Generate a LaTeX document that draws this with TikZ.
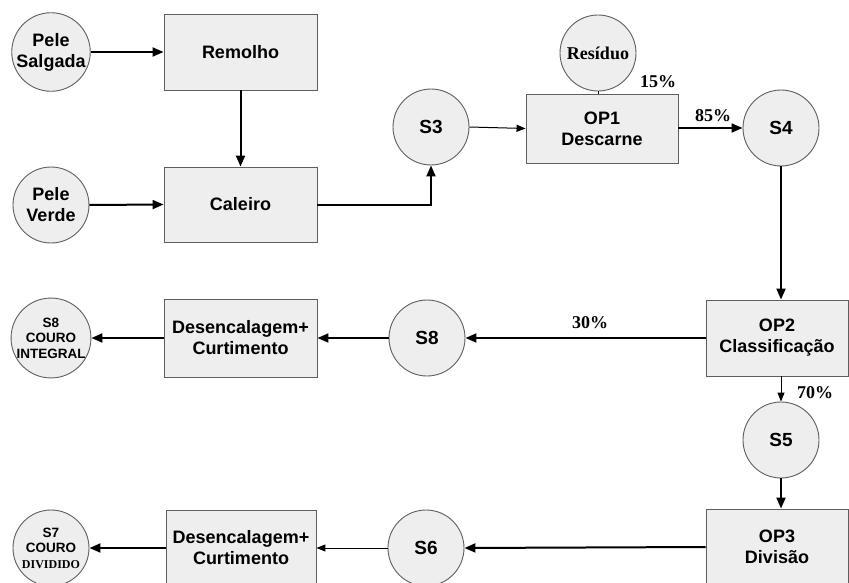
\documentclass[tikz,border=0pt]{standalone}
\usepackage{fontspec}
\setmainfont{Liberation Serif}
\setsansfont{Liberation Sans}
\usetikzlibrary{arrows.meta}
\definecolor{boxfill}{HTML}{EEEEEE}
\definecolor{edge}{HTML}{5E5E5E}
\tikzset{
  proc/.style={draw=edge, line width=0.9pt, fill=boxfill, rectangle, inner sep=0pt,
    align=center, font=\sffamily\bfseries\fontsize{18}{21}\selectfont},
  stream/.style={draw=edge, line width=0.9pt, fill=boxfill, circle, inner sep=0pt,
    minimum size=76pt, align=center, font=\sffamily\bfseries\fontsize{18}{21}\selectfont},
  sid/.style={font=\sffamily\bfseries\fontsize{19}{22}\selectfont},
  smalltxt/.style={font=\sffamily\bfseries\fontsize{13.5}{15.5}\selectfont},
  thick flow/.style={line width=2pt, -{Triangle[length=11pt,width=9pt]}},
  thin flow/.style={line width=1pt, -{Triangle[length=9pt,width=7pt]}},
  pct/.style={font=\rmfamily\bfseries\fontsize{18}{21}\selectfont, inner sep=0pt}
}
\begin{document}
\begin{tikzpicture}[x=1pt, y=-1pt]
\useasboundingbox (0,0) rectangle (849,583);
\clip (0,0) rectangle (849,583);

% inputs and liming
\node[stream] (ps) at (51,52) {Pele\\Salgada};
\node[stream] (pv) at (51,205) {Pele\\Verde};
\node[proc, minimum width=153pt, minimum height=76pt] (rem) at (240.5,52) {Remolho};
\node[proc, minimum width=153pt, minimum height=75pt] (cal) at (240.5,204.5) {Caleiro};

% fleshing
\node[stream, sid] (s3) at (431,127) {S3};
\node[proc, minimum width=152pt, minimum height=69pt] (op1) at (602,128.5) {OP1\\Descarne};
\node[stream, font=\rmfamily\bfseries\fontsize{18}{21}\selectfont] (res) at (598,53) {Resíduo};
\node[stream, sid] (s4) at (781,128) {S4};

% classification
\node[proc, minimum width=142pt, minimum height=76pt] (op2) at (777,338) {OP2\\Classificação};
\node[stream, sid] (s8) at (427,338) {S8};
\node[proc, minimum width=153pt, minimum height=78pt] (dc1) at (240.5,338) {Desencalagem+\\Curtimento};
\node[stream, smalltxt] (s8c) at (51,338) {S8\\COURO\\INTEGRAL};

% splitting
\node[stream, sid] (s5) at (781,440) {S5};
\node[proc, minimum width=142pt, minimum height=76pt] (op3) at (777,547) {OP3\\Divisão};
\node[stream, sid] (s6) at (426,548) {S6};
\node[proc, minimum width=150pt, minimum height=76pt] (dc2) at (241,548) {Desencalagem+\\Curtimento};
\node[stream, smalltxt] (s7) at (51,548) {S7\\COURO\\{\rmfamily\fontsize{12}{14}\selectfont DIVIDIDO}};

% flows
\draw[thick flow] (ps.east) -- (rem.west);
\draw[thick flow] (rem.south) -- (cal.north);
\draw[thick flow] (pv.east) -- (cal.west);
\draw[thick flow] (cal.east) -| (s3.south);
\draw[thin flow] (s3.east) -- (op1.west);
\draw[line width=0.8pt] (res.south) -- (res.south |- op1.north);
\draw[thick flow] (op1.east |- s4.west) -- (s4.west);
\draw[thick flow] (s4.south) -- (s4.south |- op2.north);
\draw[thick flow] (op2.west) -- (s8.east);
\draw[thick flow] (s8.west) -- (dc1.east);
\draw[thick flow] (dc1.west) -- (s8c.east);
\draw[thin flow] (s5.north |- op2.south) -- (s5.north);
\draw[thick flow] (s5.south) -- (s5.south |- op3.north);
\draw[thick flow] (op3.west) -- (s6.east);
\draw[thin flow] (s6.west) -- (dc2.east);
\draw[thick flow] (dc2.west) -- (s7.east);

% split fractions
\node[pct] (p15) at (658,82) {15\%};
\node[pct] (p85) at (713,116) {85\%};
\node[pct] (p30) at (590,323) {30\%};
\node[pct] (p70) at (815,393) {70\%};
\end{tikzpicture}
\end{document}
